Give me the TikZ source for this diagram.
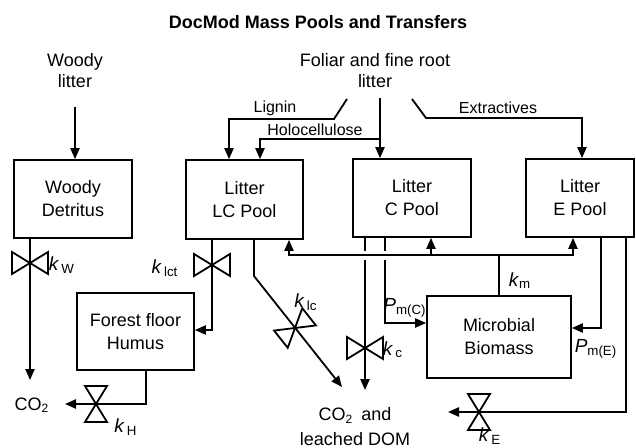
\documentclass[tikz,border=0pt]{standalone}
\usepackage{fontspec}
\setmainfont{Liberation Sans}
\usetikzlibrary{arrows.meta,positioning}

\newcommand{\rate}[1]{\textit{k}\textsubscript{\,#1}}

\begin{document}
\begin{tikzpicture}[
    x=0.5pt,y=-0.5pt,
    pool/.style={
      draw=black,
      line width=0.9pt,
      align=center,
      inner sep=0pt,
      font=\fontsize{9}{11.5}\selectfont
    },
    inputlab/.style={align=center, font=\fontsize{9}{10.5}\selectfont},
    flowlab/.style={font=\fontsize{8}{9}\selectfont, inner sep=1pt},
    ratelab/.style={font=\fontsize{9.5}{10}\selectfont, inner sep=1pt},
    flow/.style={
      -{Triangle[length=5.5pt,width=4.6pt]},
      draw=black,
      line width=0.9pt
    },
    link/.style={draw=black, line width=0.9pt},
    pics/valve/.style={
      code={\draw[line width=0.9pt] (-11,-18) -- (11,-18) -- (-11,18) -- (11,18) -- cycle;}
    }
  ]
    \useasboundingbox (0,0) rectangle (636,448);

    % title and inputs
    \node[font=\bfseries\fontsize{9}{11}\selectfont] (title) at (318,22) {DocMod Mass Pools and Transfers};
    \node[inputlab] (wl) at (75,71) {Woody\\litter};
    \node[inputlab] (fl) at (375,71) {Foliar and fine root\\litter};

    % pools
    \node[pool, minimum width=59pt, minimum height=39pt] (wd) at (73,199) {Woody\\Detritus};
    \node[pool, minimum width=58.5pt, minimum height=39.5pt] (lc) at (244.5,199.5) {Litter\\LC Pool};
    \node[pool, minimum width=59pt, minimum height=39pt] (cp) at (412,198) {Litter\\C Pool};
    \node[pool, minimum width=54pt, minimum height=39pt] (ep) at (580,198) {Litter\\E Pool};
    \node[pool, minimum width=58.5pt, minimum height=38.5pt] (hu) at (135.5,331.5) {Forest floor\\Humus};
    \node[pool, minimum width=72pt, minimum height=41pt] (mb) at (499,337) {Microbial\\Biomass};

    % sinks
    \node[inputlab] (co2) at (32,405) {CO\textsubscript{2}};
    \node[inputlab, font=\fontsize{9}{12.5}\selectfont] (dom) at (355,427) {CO\textsubscript{2}\, and\\leached DOM};

    \coordinate (fl-lig) at (347,99);
    \coordinate (fl-mid) at (380,98);
    \coordinate (fl-ext) at (412,99);
    \coordinate (co2-w) at (30,380);
    \coordinate (co2-h) at (65,404);
    \coordinate (dom-lc) at (342,387);
    \coordinate (dom-c) at (365,390);
    \coordinate (dom-e) at (448,412);
    \coordinate (km-j) at (mb.north |- 0,255);

    % litter inputs
    \draw[flow] ([yshift=-6pt]wl.south) -- (wl.south |- wd.north);
    \draw[flow] (fl-lig) -- (334,119) -| (lc.north -| 229,0);
    \draw[flow] (380,139) -| (lc.north -| 260,0);
    \draw[flow] (fl-mid) -- (fl-mid |- cp.north);
    \draw[flow] (fl-ext) -- (426,118) -| (ep.north -| 582,0);
    \node[flowlab] (lig) at (275,108) {Lignin};
    \node[flowlab] (hol) at (315,130) {Holocellulose};
    \node[flowlab] (ext) at (498,108) {Extractives};

    % woody detritus and humus
    \draw[flow] (wd.south -| 30,0) -- (co2-w);
    \pic[rotate=90] at (30,263) {valve};
    \node[ratelab] (kw) at (62,265) {\rate{W}};
    \draw[flow] (hu.south -| 146,0) |- (co2-h);
    \pic at (96,404) {valve};
    \node[ratelab] (kh) at (126,427) {\rate{H}};

    % lignocellulose pool
    \draw[flow] (lc.south -| 212,0) |- (hu.east |- 0,330);
    \pic[rotate=90] at (212,265) {valve};
    \node[ratelab] (klct) at (165,268) {\rate{lct}};
    \draw[flow] (lc.south -| 254,0) -- (254,276) -- (dom-lc);
    \pic[rotate=-51.6] at (295,328) {valve};
    \node[ratelab] (klc) at (306,302) {\rate{lc}};

    % cellulose pool
    \draw[link] (cp.south -| 365,0) -- (365,251);
    \draw[link] (cp.south -| 385,0) -- (385,251);
    \draw[flow] (365,260) -- (dom-c);
    \pic[rotate=90] at (365,348) {valve};
    \node[ratelab] (kc) at (393,350) {\rate{c}};
    \draw[flow] (385,260) |- (mb.west |- 0,323);
    \node[ratelab] (pmc) at (405,308) {\textit{P}\textsubscript{m(C)}};

    % microbial turnover
    \draw[link] (mb.north) -- (km-j);
    \draw[flow] (km-j) -| (lc.south -| 289,0);
    \draw[flow] (km-j) -| (ep.south -| 573,0);
    \draw[flow] (431,255) -- (cp.south -| 431,0);
    \node[ratelab] (km) at (520,281) {\textit{k}\textsubscript{m}};

    % extractives pool
    \draw[flow] (ep.south -| 601,0) |- (mb.east |- 0,328);
    \node[ratelab] (pme) at (596,349) {\textit{P}\textsubscript{m(E)}};
    \draw[flow] (ep.south -| 626,0) |- (dom-e);
    \pic at (479,412) {valve};
    \node[ratelab] (ke) at (490,436) {\rate{E}};
  \end{tikzpicture}
\end{document}
